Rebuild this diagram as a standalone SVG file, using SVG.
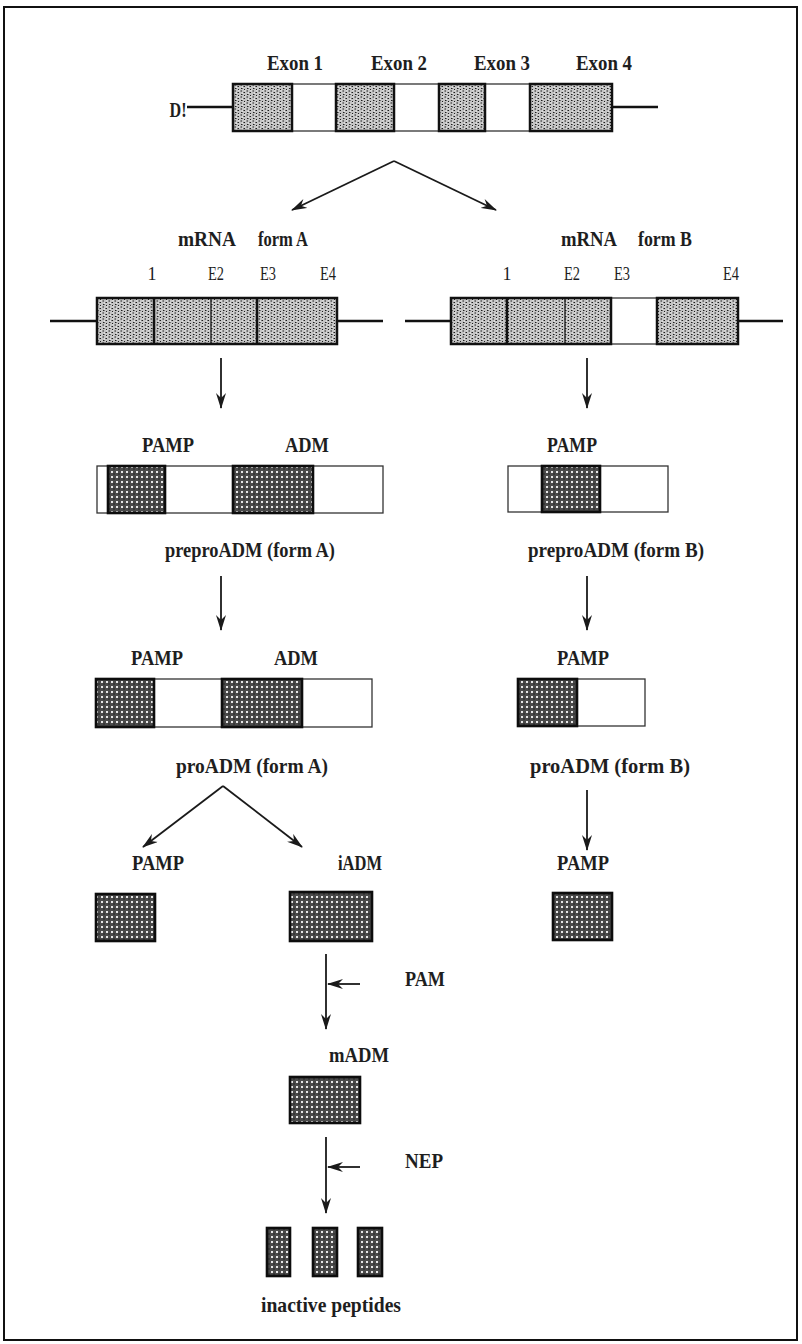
<svg xmlns="http://www.w3.org/2000/svg" width="802" height="1344" viewBox="0 0 802 1344">
<defs>
<pattern id="stip" width="6" height="6" patternUnits="userSpaceOnUse">
<rect width="6" height="6" fill="#c4c4c4"/>
<path d="M0.5,1 h1.5 M3.5,2.5 h1.5 M1,4.5 h1.5 M4,5.5 h1" stroke="#1e1e1e" stroke-width="1"/>
<circle cx="5" cy="0.8" r="0.6" fill="#fff"/><circle cx="2.5" cy="3" r="0.6" fill="#fff"/>
</pattern>
<pattern id="grid" width="5" height="5" patternUnits="userSpaceOnUse">
<rect width="5" height="5" fill="#4a4a4a"/>
<rect x="1" y="1" width="2" height="2" fill="#e6e6e6"/>
<rect x="3.5" y="3.5" width="1" height="1" fill="#000"/>
</pattern>
<marker id="ah" viewBox="0 0 16 10" refX="15" refY="5" markerWidth="16" markerHeight="10" markerUnits="userSpaceOnUse" orient="auto">
<path d="M0,0 L16,5 L0,10 L5,5 Z" fill="#1a1a1a"/>
</marker>
<style>
.t{font-family:"Liberation Serif","Times New Roman",serif;font-weight:bold;font-size:22px;fill:#1e1e1e;text-anchor:middle}
.s{font-family:"Liberation Serif","Times New Roman",serif;font-size:18px;fill:#1e1e1e;text-anchor:middle}
.ex{fill:url(#stip);stroke:#111;stroke-width:2.5}
.wh{fill:#fff;stroke:#333;stroke-width:1.3}
.dk{fill:url(#grid);stroke:#0d0d0d;stroke-width:2.6}
.ln{stroke:#111;stroke-width:2.5;fill:none}
.div{stroke:#111}
.ar{stroke:#1a1a1a;stroke-width:1.8;fill:none;marker-end:url(#ah)}
</style>
</defs>
<rect width="802" height="1344" fill="#fff"/>
<rect x="4" y="7" width="793" height="1333" fill="none" stroke="#111" stroke-width="2"/>

<g id="gene">
<line class="ln" x1="187" y1="107" x2="233" y2="107"/>
<line class="ln" x1="612" y1="107" x2="658" y2="107"/>
<rect class="wh" x="292" y="84" width="44" height="47"/>
<rect class="wh" x="394" y="84" width="45" height="47"/>
<rect class="wh" x="485" y="84" width="45" height="47"/>
<rect class="ex" x="233" y="84" width="59" height="47"/>
<rect class="ex" x="336" y="84" width="58" height="47"/>
<rect class="ex" x="439" y="84" width="46" height="47"/>
<rect class="ex" x="530" y="84" width="82" height="47"/>
<text class="t" x="178" y="117" textLength="17" lengthAdjust="spacingAndGlyphs">D!</text>
<text class="t" x="295" y="70" textLength="56" lengthAdjust="spacingAndGlyphs">Exon 1</text>
<text class="t" x="399" y="70" textLength="56" lengthAdjust="spacingAndGlyphs">Exon 2</text>
<text class="t" x="502" y="70" textLength="56" lengthAdjust="spacingAndGlyphs">Exon 3</text>
<text class="t" x="604" y="70" textLength="56" lengthAdjust="spacingAndGlyphs">Exon 4</text>
</g>

<g id="mrnaA">
<text class="t" x="207" y="246" textLength="58" lengthAdjust="spacingAndGlyphs">mRNA</text>
<text class="t" x="283" y="246" textLength="50" lengthAdjust="spacingAndGlyphs">form A</text>
<text class="s" x="152" y="280">1</text>
<text class="s" x="216" y="280" textLength="16" lengthAdjust="spacingAndGlyphs">E2</text>
<text class="s" x="268" y="280" textLength="16" lengthAdjust="spacingAndGlyphs">E3</text>
<text class="s" x="328" y="280" textLength="16" lengthAdjust="spacingAndGlyphs">E4</text>
<line class="ln" x1="50" y1="321" x2="97" y2="321"/>
<line class="ln" x1="337" y1="321" x2="383" y2="321"/>
<rect class="ex" x="97" y="298" width="240" height="46"/>
<line class="div" x1="154" y1="298" x2="154" y2="344" stroke-width="2.5"/>
<line class="div" x1="211" y1="298" x2="211" y2="344" stroke-width="1.2"/>
<line class="div" x1="257" y1="298" x2="257" y2="344" stroke-width="2.5"/>
</g>

<g id="mrnaB">
<text class="t" x="589" y="246" textLength="56" lengthAdjust="spacingAndGlyphs">mRNA</text>
<text class="t" x="665" y="246" textLength="54" lengthAdjust="spacingAndGlyphs">form B</text>
<text class="s" x="507" y="280">1</text>
<text class="s" x="572" y="280" textLength="16" lengthAdjust="spacingAndGlyphs">E2</text>
<text class="s" x="622" y="280" textLength="16" lengthAdjust="spacingAndGlyphs">E3</text>
<text class="s" x="731" y="280" textLength="16" lengthAdjust="spacingAndGlyphs">E4</text>
<line class="ln" x1="405" y1="321" x2="451" y2="321"/>
<line class="ln" x1="738" y1="321" x2="783" y2="321"/>
<rect class="wh" x="611" y="298" width="46" height="46"/>
<rect class="ex" x="451" y="298" width="160" height="46"/>
<rect class="ex" x="657" y="298" width="81" height="46"/>
<line class="div" x1="507" y1="298" x2="507" y2="344" stroke-width="2.5"/>
<line class="div" x1="565" y1="298" x2="565" y2="344" stroke-width="1.2"/>
</g>

<g id="preproA">
<text class="t" x="168" y="452" textLength="52" lengthAdjust="spacingAndGlyphs">PAMP</text>
<text class="t" x="307" y="452" textLength="44" lengthAdjust="spacingAndGlyphs">ADM</text>
<rect class="wh" x="97" y="466" width="286" height="47"/>
<rect class="dk" x="108" y="466" width="57" height="47"/>
<rect class="dk" x="233" y="466" width="80" height="47"/>
<text class="t" x="250" y="557" textLength="170" lengthAdjust="spacingAndGlyphs">preproADM (form A)</text>
</g>

<g id="preproB">
<text class="t" x="572" y="452" textLength="50" lengthAdjust="spacingAndGlyphs">PAMP</text>
<rect class="wh" x="508" y="466" width="160" height="46"/>
<rect class="dk" x="542" y="466" width="58" height="46"/>
<text class="t" x="616" y="557" textLength="176" lengthAdjust="spacingAndGlyphs">preproADM (form B)</text>
</g>

<g id="proA">
<text class="t" x="157" y="665" textLength="52" lengthAdjust="spacingAndGlyphs">PAMP</text>
<text class="t" x="296" y="665" textLength="44" lengthAdjust="spacingAndGlyphs">ADM</text>
<rect class="wh" x="96" y="679" width="276" height="48"/>
<rect class="dk" x="96" y="679" width="58" height="48"/>
<rect class="dk" x="222" y="679" width="80" height="48"/>
<text class="t" x="252" y="773" textLength="152" lengthAdjust="spacingAndGlyphs">proADM (form A)</text>
</g>

<g id="proB">
<text class="t" x="583" y="665" textLength="52" lengthAdjust="spacingAndGlyphs">PAMP</text>
<rect class="wh" x="518" y="679" width="127" height="47"/>
<rect class="dk" x="518" y="679" width="59" height="47"/>
<text class="t" x="610" y="773" textLength="160" lengthAdjust="spacingAndGlyphs">proADM (form B)</text>
</g>

<g id="pampA">
<text class="t" x="158" y="870" textLength="52" lengthAdjust="spacingAndGlyphs">PAMP</text>
<rect class="dk" x="96" y="894" width="59" height="47"/>
</g>

<g id="iADM">
<text class="t" x="360" y="870" textLength="44" lengthAdjust="spacingAndGlyphs">iADM</text>
<rect class="dk" x="290" y="892" width="82" height="49"/>
</g>

<g id="pampB">
<text class="t" x="583" y="870" textLength="52" lengthAdjust="spacingAndGlyphs">PAMP</text>
<rect class="dk" x="553" y="893" width="59" height="47"/>
</g>

<g id="mADM">
<text class="t" x="359" y="1062" textLength="60" lengthAdjust="spacingAndGlyphs">mADM</text>
<rect class="dk" x="290" y="1077" width="70" height="46"/>
</g>

<g id="peptides">
<rect class="dk" x="267" y="1228" width="23" height="48"/>
<rect class="dk" x="313" y="1228" width="24" height="48"/>
<rect class="dk" x="358" y="1228" width="24" height="48"/>
<text class="t" x="331" y="1312" textLength="140" lengthAdjust="spacingAndGlyphs">inactive peptides</text>
</g>

<g id="enzymes">
<text class="t" x="425" y="986" textLength="40" lengthAdjust="spacingAndGlyphs">PAM</text>
<text class="t" x="424" y="1168" textLength="38" lengthAdjust="spacingAndGlyphs">NEP</text>
</g>

<g id="connectors">
<line class="ar" x1="394" y1="161" x2="292" y2="210"/>
<line class="ar" x1="394" y1="161" x2="496" y2="210"/>
<line class="ar" x1="221" y1="358" x2="221" y2="408"/>
<line class="ar" x1="587" y1="358" x2="587" y2="408"/>
<line class="ar" x1="221" y1="576" x2="221" y2="630"/>
<line class="ar" x1="587" y1="576" x2="587" y2="630"/>
<line class="ar" x1="223" y1="786" x2="143" y2="847"/>
<line class="ar" x1="223" y1="786" x2="302" y2="847"/>
<line class="ar" x1="587" y1="790" x2="587" y2="850"/>
<line class="ar" x1="326" y1="954" x2="326" y2="1029"/>
<line class="ar" x1="360" y1="984" x2="328" y2="984"/>
<line class="ar" x1="326" y1="1137" x2="326" y2="1213"/>
<line class="ar" x1="360" y1="1167" x2="328" y2="1167"/>
</g>
</svg>
